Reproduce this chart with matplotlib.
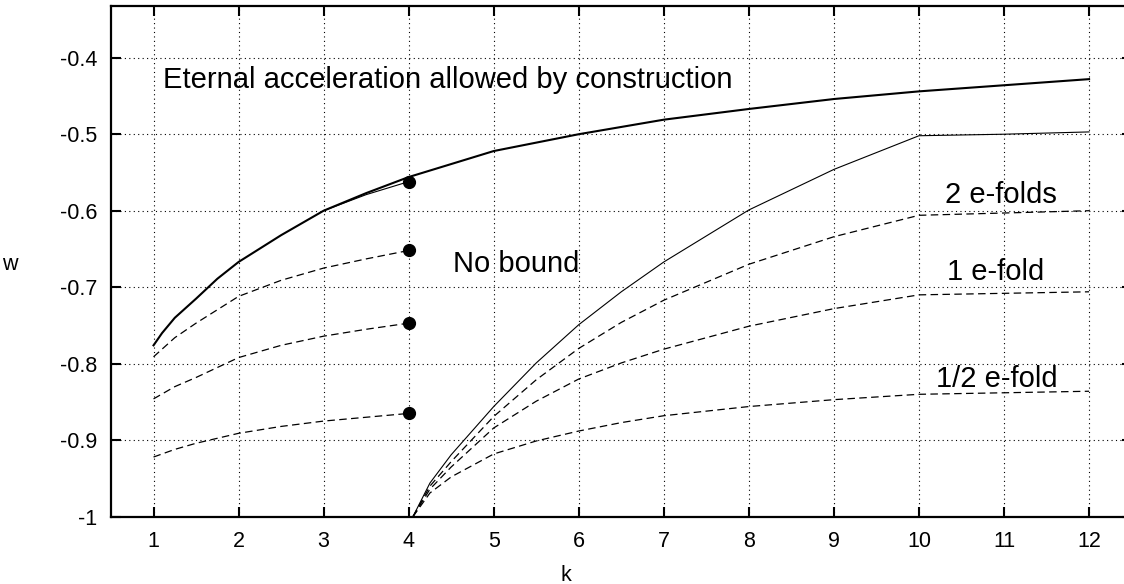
import matplotlib
matplotlib.use("Agg")
import matplotlib.pyplot as plt

#---------------------------- data ----------------------------#

# left region, k = 1 .. 4 (curves ending at the dots)
k_left = [1, 1.25, 1.5, 2, 2.5, 3, 3.5, 4]
w_dash_a = [-0.791, -0.766, -0.747, -0.712, -0.691, -0.675, -0.663, -0.652]
w_dash_b = [-0.846, -0.830, -0.818, -0.792, -0.776, -0.764, -0.755, -0.747]
w_dash_c = [-0.922, -0.912, -0.904, -0.891, -0.882, -0.875, -0.870, -0.865]

# thin branch to the top dot
k_branch = [3, 3.5, 4]
w_branch = [-0.600, -0.579, -0.562]

# dots at k = 4
k_dots = [4, 4, 4, 4]
w_dots = [-0.562, -0.652, -0.747, -0.865]

# upper bound (thick line)
k_top = [1, 1.1, 1.25, 1.5, 1.75, 2, 2.5, 3, 3.5, 4, 5, 6, 7, 8, 9, 10, 11, 12]
w_top = [-0.776, -0.760, -0.740, -0.715, -0.689, -0.667, -0.632, -0.600, -0.577,
         -0.556, -0.522, -0.500, -0.481, -0.467, -0.454, -0.444, -0.436, -0.428]

# right region, curves starting at k = 4
k_right = [4.05, 4.25, 4.5, 5, 5.5, 6, 6.5, 7, 8, 9, 10, 11, 12]
w_solid = [-1.0, -0.956, -0.919, -0.856, -0.799, -0.749, -0.706, -0.667,
           -0.599, -0.546, -0.502, -0.500, -0.497]
w_2ef = [-1.0, -0.960, -0.928, -0.869, -0.821, -0.780, -0.746, -0.717,
         -0.670, -0.634, -0.606, -0.603, -0.600]
w_1ef = [-1.0, -0.964, -0.935, -0.884, -0.849, -0.820, -0.799, -0.781,
         -0.751, -0.728, -0.710, -0.708, -0.706]
w_half = [-1.0, -0.969, -0.948, -0.918, -0.901, -0.888, -0.877, -0.868,
          -0.856, -0.847, -0.840, -0.838, -0.836]

x_ticks = list(range(1, 13))
y_ticks = [-1, -0.9, -0.8, -0.7, -0.6, -0.5, -0.4]
y_tick_labels = ["-1", "-0.9", "-0.8", "-0.7", "-0.6", "-0.5", "-0.4"]

#---------------------------- plot ----------------------------#

plt.rcParams['font.family'] = ['Liberation Sans', 'DejaVu Sans']
plt.rcParams['axes.unicode_minus'] = False

fig = plt.figure(figsize=(11.24, 5.84), dpi=100)
ax = fig.add_axes([111 / 1124, 67.3 / 584, 1020.6 / 1124, 510.7 / 584])

dash = (0, (6, 3.5))
ax.plot(k_top, w_top, color='k', lw=1.5)
ax.plot(k_branch, w_branch, color='k', lw=0.8)
ax.plot(k_left, w_dash_a, color='k', lw=0.9, linestyle=dash)
ax.plot(k_left, w_dash_b, color='k', lw=0.9, linestyle=dash)
ax.plot(k_left, w_dash_c, color='k', lw=0.9, linestyle=dash)
ax.plot(k_dots, w_dots, 'o', color='k', markersize=8.5, zorder=5)

ax.plot(k_right, w_solid, color='k', lw=0.8)
ax.plot(k_right, w_2ef, color='k', lw=0.9, linestyle=dash)
ax.plot(k_right, w_1ef, color='k', lw=0.9, linestyle=dash)
ax.plot(k_right, w_half, color='k', lw=0.9, linestyle=dash)

fs = 21
ax.text(1.11, -0.440, "Eternal acceleration allowed by construction", fontsize=fs, va='baseline')
ax.text(4.52, -0.680, "No bound", fontsize=fs, va='baseline')
ax.text(10.31, -0.590, "2 e-folds", fontsize=fs, va='baseline')
ax.text(10.33, -0.691, "1 e-fold", fontsize=fs, va='baseline')
ax.text(10.2, -0.830, "1/2 e-fold", fontsize=fs, va='baseline')

ax.set_xlim(0.5, 12.5)
ax.set_ylim(-1, -0.3324)
ax.set_xticks(x_ticks)
ax.set_yticks(y_ticks)
ax.set_yticklabels(y_tick_labels)
ax.tick_params(direction='in', length=7, width=1.5, labelsize=15.5, pad=10,
               top=True, right=True)
ax.grid(True, color='k', linestyle=(0, (1, 3)), lw=0.8)
for s in ax.spines.values():
    s.set_linewidth(1.6)
ax.spines['right'].set_visible(False)

ax.set_xlabel("k", fontsize=15.5)
ax.xaxis.set_label_coords(0.446, -0.115)
ax.set_ylabel("w", fontsize=15.5, rotation=0)
ax.yaxis.set_label_coords(-0.099, 0.493)
ax.yaxis.label.set_va('center')
ax.xaxis.label.set_va('center')

fig.savefig("out.png", dpi=100)
